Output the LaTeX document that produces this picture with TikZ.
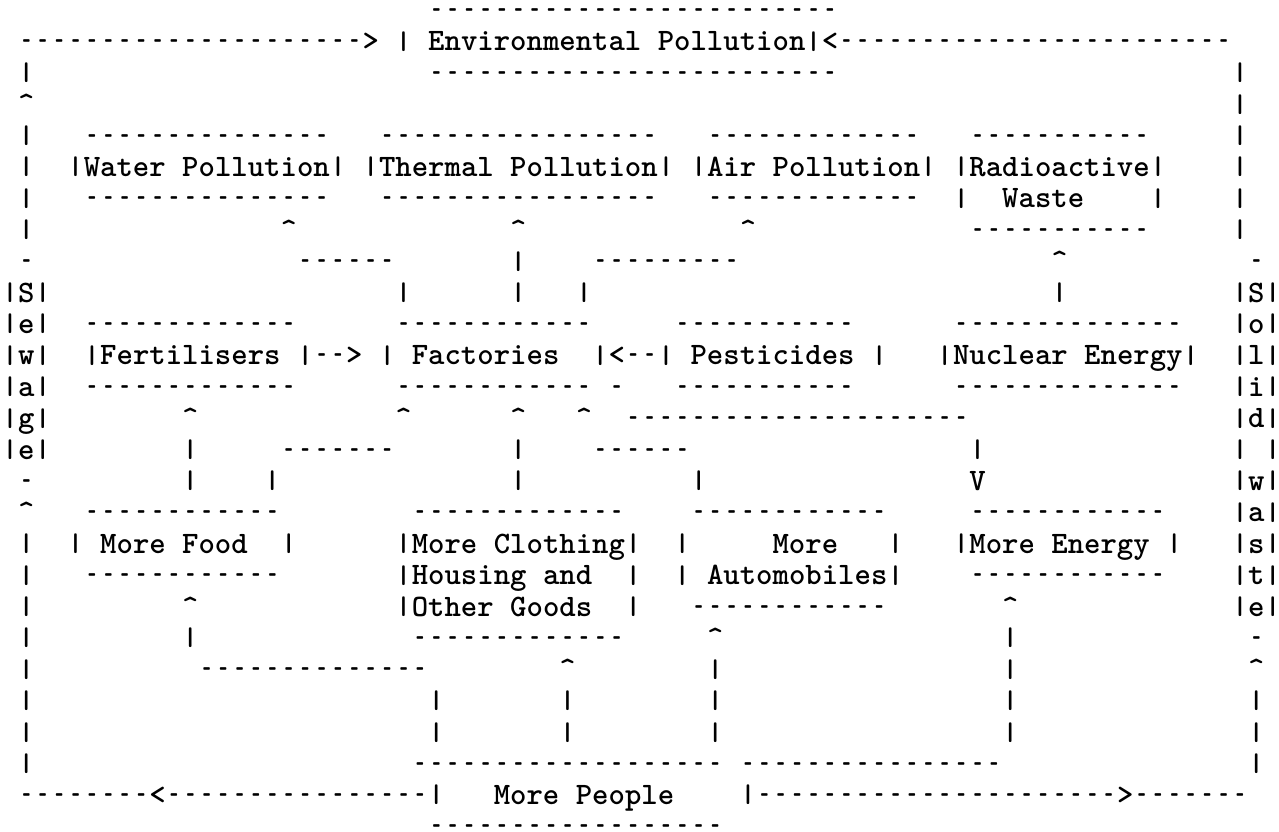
\documentclass[tikz,border=0pt]{standalone}
\usepackage{graphicx}

% One character cell of the typed grid
\newlength\cellw
\setlength\cellw{16.4pt}

% typewriter hyphen, caret and bar
\newcommand\hy{\scalebox{0.5}[1]{-}}
\newcommand\ct{\textasciicircum}
\newcommand\br{\raisebox{0.05em}{\scalebox{1}[0.82]{|}}}

\makeatletter
% '.' stands for a blank cell, '*' for a caret
\newcommand\glyph[1]{%
  \ifx#1.\relax\else
  \ifx#1*\ct\else
  \ifx#1-\hy\else
  \ifx#1|\br\else
  #1\fi\fi\fi\fi}
\newcommand\T[1]{\@tfor\tr@ch:=#1\do{\makebox[\cellw][c]{\expandafter\glyph\tr@ch}}}
\makeatother
% a run of n hyphens, one per cell
\newcommand\D[1]{\foreach\k in {1,...,#1}{\makebox[\cellw][c]{\hy}}}

\newcommand\typefont{\fontsize{31.2pt}{31.4pt}\selectfont\ttfamily\bfseries}

\tikzset{frag/.style={anchor=base west, inner sep=0pt, outer sep=0pt, font=\typefont}}

% \tx{name}{column}{row}{content}
\newcommand\tx[4]{\node[frag] (#1) at ({1.8pt+#2*16.4pt},{811.5pt-#3*31.4pt}) {#4};}

\begin{document}
\begin{tikzpicture}
\fill[white] (0,0) rectangle (1279pt,831pt);
\useasboundingbox (0,0) rectangle (1279pt,831pt);

% Environmental Pollution and the outer loop
\tx{envtop}{26}{0}{\D{25}}
\tx{toparrowl}{1}{1}{\D{21}\T{>}}
\tx{envbox}{24}{1}{\T{|.Environmental.Pollution|}}
\tx{toparrowr}{50}{1}{\T{<}\D{24}}
\tx{lb2}{1}{2}{\T{|}} \tx{envbot}{26}{2}{\D{25}} \tx{rb2}{75}{2}{\T{|}}
\tx{lb3}{1}{3}{\T{*}} \tx{rb3}{75}{3}{\T{|}}

% the four kinds of pollution
\tx{lb4}{1}{4}{\T{|}} \tx{watertop}{5}{4}{\D{15}} \tx{thermtop}{23}{4}{\D{17}}
\tx{airtop}{43}{4}{\D{13}} \tx{radtop}{59}{4}{\D{11}} \tx{rb4}{75}{4}{\T{|}}
\tx{lb5}{1}{5}{\T{|}} \tx{water}{4}{5}{\T{|Water.Pollution|}}
\tx{thermal}{22}{5}{\T{|Thermal.Pollution|}} \tx{air}{42}{5}{\T{|Air.Pollution|}}
\tx{radio}{58}{5}{\T{|Radioactive|}} \tx{rb5}{75}{5}{\T{|}}
\tx{lb6}{1}{6}{\T{|}} \tx{waterbot}{5}{6}{\D{15}} \tx{thermbot}{23}{6}{\D{17}}
\tx{airbot}{43}{6}{\D{13}} \tx{waste}{58}{6}{\T{|..Waste....|}} \tx{rb6}{75}{6}{\T{|}}
\tx{lb7}{1}{7}{\T{|}} \tx{wa}{17}{7}{\T{*}} \tx{ta}{31}{7}{\T{*}} \tx{aa}{45}{7}{\T{*}}
\tx{radbot}{59}{7}{\D{11}} \tx{rb7}{75}{7}{\T{|}}
\tx{lb8}{1}{8}{\T{-}} \tx{wl}{18}{8}{\D{6}} \tx{tl8}{31}{8}{\T{|}} \tx{al}{36}{8}{\D{9}}
\tx{ra}{64}{8}{\T{*}} \tx{rb8}{76}{8}{\T{-}}
\tx{s1}{0}{9}{\T{|S|}} \tx{fw9}{24}{9}{\T{|}} \tx{tl9}{31}{9}{\T{|}} \tx{fa9}{35}{9}{\T{|}}
\tx{nr9}{64}{9}{\T{|}} \tx{w1}{75}{9}{\T{|S|}}

% sources of pollution
\tx{s2}{0}{10}{\T{|e|}} \tx{fertop}{5}{10}{\D{13}} \tx{factop}{24}{10}{\D{12}}
\tx{pesttop}{41}{10}{\D{11}} \tx{nuctop}{58}{10}{\D{14}} \tx{w2}{75}{10}{\T{|o|}}
\tx{s3}{0}{11}{\T{|w|}} \tx{fert}{5}{11}{\T{|Fertilisers.|}} \tx{fertarrow}{19}{11}{\T{-->}}
\tx{fact}{23}{11}{\T{|.Factories..|}} \tx{pestarrow}{37}{11}{\T{<--}}
\tx{pest}{40}{11}{\T{|.Pesticides.|}} \tx{nuc}{57}{11}{\T{|Nuclear.Energy|}} \tx{w3}{75}{11}{\T{|l|}}
\tx{s4}{0}{12}{\T{|a|}} \tx{ferbot}{5}{12}{\D{13}} \tx{facbot}{24}{12}{\D{12}} \tx{stray}{37}{12}{\T{-}}
\tx{pestbot}{41}{12}{\D{11}} \tx{nucbot}{58}{12}{\D{14}} \tx{w4}{75}{12}{\T{|i|}}
\tx{s5}{0}{13}{\T{|g|}} \tx{fera}{11}{13}{\T{*}} \tx{faca1}{24}{13}{\T{*}} \tx{faca2}{31}{13}{\T{*}}
\tx{faca3}{35}{13}{\T{*}} \tx{nucl}{38}{13}{\D{21}} \tx{w5}{75}{13}{\T{|d|}}
\tx{s6}{0}{14}{\T{|e|}} \tx{fl14}{11}{14}{\T{|}} \tx{fd14}{17}{14}{\D{7}} \tx{cl14}{31}{14}{\T{|}}
\tx{ad14}{36}{14}{\D{6}} \tx{nl14}{59}{14}{\T{|}} \tx{w6}{75}{14}{\T{|.|}}
\tx{lb15}{1}{15}{\T{-}} \tx{fl15}{11}{15}{\T{|}} \tx{fd15}{16}{15}{\T{|}} \tx{cl15}{31}{15}{\T{|}}
\tx{al15}{42}{15}{\T{|}} \tx{nv}{59}{15}{\T{V}} \tx{w7}{75}{15}{\T{|w|}}

% what more people ask for
\tx{lb16}{1}{16}{\T{*}} \tx{foodtop}{5}{16}{\D{12}} \tx{clothtop}{25}{16}{\D{13}}
\tx{autotop}{42}{16}{\D{12}} \tx{engtop}{59}{16}{\D{12}} \tx{w8}{75}{16}{\T{|a|}}
\tx{lb17}{1}{17}{\T{|}} \tx{food}{4}{17}{\T{|.More.Food..|}} \tx{cloth}{24}{17}{\T{|More.Clothing|}}
\tx{auto}{41}{17}{\T{|.....More...|}} \tx{energy}{58}{17}{\T{|More.Energy.|}} \tx{w9}{75}{17}{\T{|s|}}
\tx{lb18}{1}{18}{\T{|}} \tx{foodbot}{5}{18}{\D{12}} \tx{housing}{24}{18}{\T{|Housing.and..|}}
\tx{automob}{41}{18}{\T{|.Automobiles|}} \tx{engbot}{59}{18}{\D{12}} \tx{w10}{75}{18}{\T{|t|}}
\tx{lb19}{1}{19}{\T{|}} \tx{fooda}{11}{19}{\T{*}} \tx{goods}{24}{19}{\T{|Other.Goods..|}}
\tx{autobot}{42}{19}{\D{12}} \tx{enga}{61}{19}{\T{*}} \tx{w11}{75}{19}{\T{|e|}}
\tx{lb20}{1}{20}{\T{|}} \tx{fl20}{11}{20}{\T{|}} \tx{clothbot}{25}{20}{\D{13}}
\tx{autoa}{43}{20}{\T{*}} \tx{el20}{61}{20}{\T{|}} \tx{rb20}{76}{20}{\T{-}}
\tx{lb21}{1}{21}{\T{|}} \tx{fd21}{12}{21}{\D{14}} \tx{clotha}{34}{21}{\T{*}}
\tx{al21}{43}{21}{\T{|}} \tx{el21}{61}{21}{\T{|}} \tx{rb21}{76}{21}{\T{*}}
\tx{lb22}{1}{22}{\T{|}} \tx{pl22}{26}{22}{\T{|}} \tx{cl22}{34}{22}{\T{|}}
\tx{al22}{43}{22}{\T{|}} \tx{el22}{61}{22}{\T{|}} \tx{rb22}{76}{22}{\T{|}}
\tx{lb23}{1}{23}{\T{|}} \tx{pl23}{26}{23}{\T{|}} \tx{cl23}{34}{23}{\T{|}}
\tx{al23}{43}{23}{\T{|}} \tx{el23}{61}{23}{\T{|}} \tx{rb23}{76}{23}{\T{|}}

% More People and the lower loop
\tx{lb24}{1}{24}{\T{|}} \tx{peoptop}{25}{24}{\D{19}} \tx{ed24}{45}{24}{\D{16}} \tx{rb24}{76}{24}{\T{|}}
\tx{botl}{1}{25}{\D{8}\T{<}\D{16}}
\tx{people}{26}{25}{\T{|...More.People....|}}
\tx{botr}{46}{25}{\D{22}\T{>}\D{7}}
\tx{peopbot}{26}{26}{\D{18}}
\end{tikzpicture}
\end{document}
